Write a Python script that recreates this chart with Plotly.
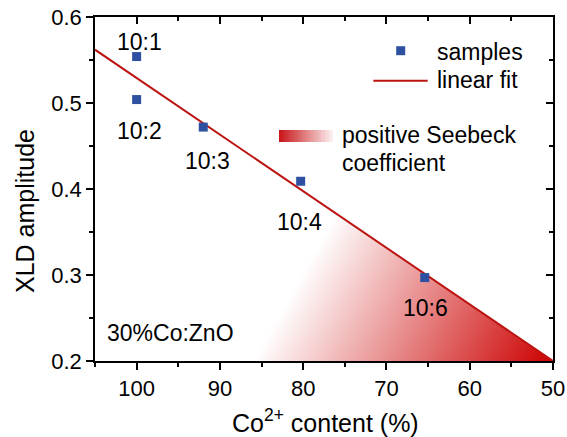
import numpy as np
import plotly.graph_objects as go

# ---- data ----
sample_x = [100, 100, 92, 80.3, 65.4]
sample_y = [0.554, 0.504, 0.472, 0.409, 0.297]
sample_labels = ["10:1", "10:2", "10:3", "10:4", "10:6"]
label_x = [99.6, 99.7, 91.5, 80.4, 65.3]
label_y = [0.571, 0.467, 0.432, 0.362, 0.262]

fit_x = [105, 50]
fit_y = [0.562, 0.2]

x_ticks = [100, 90, 80, 70, 60, 50]
y_ticks = [0.2, 0.3, 0.4, 0.5, 0.6]

# ---- geometry ----
ML, MR, MT, MB = 95, 14, 17, 76
W, H = 567, 437
PW = W - ML - MR
PH = H - MT - MB
XR = [105, 50]
YR = [0.2, 0.6]
kx = PW / (XR[0] - XR[1])      # px per x unit
ky = PH / (YR[1] - YR[0])      # px per y unit


def px(p):
    return (p - ML) / PW


def py(p):
    return (H - MB - p) / PH


FONT = "Liberation Sans, Arial, sans-serif"
RED = "#bb1412"
BLUE = "#2d51a0"

# ---- gradient region (positive Seebeck coefficient) ----
def fit_line(x):
    return fit_y[1] + (fit_y[0] - fit_y[1]) * (np.asarray(x) - fit_x[1]) / (fit_x[0] - fit_x[1])

gx = np.arange(50.0, 86.05, 0.1)
gy = np.arange(0.2, 0.442, 0.001)
GX, GY = np.meshgrid(gx, gy)
U = (105 - GX) * kx
V = (GY - 0.2) * ky
p0u, p0v = (105 - 86.0) * kx, 0.0
eu, ev = (86.0 - 76.8) * kx, (0.3605 - 0.2) * ky
n = np.hypot(eu, ev)
du, dv = ev / n, -eu / n
cu, cv = (105 - 50) * kx, 0.0
T = ((U - p0u) * du + (V - p0v) * dv) / ((cu - p0u) * du + (cv - p0v) * dv)
mask = (GY <= fit_line(GX)) & (T >= 0)
Z = np.where(mask, np.clip(T, 0, 1), np.nan)

fig = go.Figure()
fig.add_trace(go.Heatmap(
    x=gx, y=gy, z=Z, zmin=0, zmax=1,
    colorscale=[[0, "rgba(204,0,0,0)"], [1, "rgba(204,0,0,1)"]],
    showscale=False, hoverinfo="skip",
))

# legend swatch for gradient
sw_x = np.linspace(82.9, 76.4, 41)
sw_y = [0.455, 0.4686]
sw_z = [np.linspace(0, 1, 40).tolist()]
fig.add_trace(go.Heatmap(
    x=sw_x, y=sw_y, z=sw_z, zmin=0, zmax=1,
    colorscale=[[0, "rgb(200,20,24)"], [1, "rgb(252,240,240)"]],
    showscale=False, hoverinfo="skip",
))

fig.add_trace(go.Scatter(
    x=fit_x, y=fit_y, mode="lines", line=dict(color=RED, width=2),
    name="linear fit", showlegend=False, hoverinfo="skip",
))
fig.add_trace(go.Scatter(
    x=sample_x, y=sample_y, mode="markers",
    marker=dict(symbol="square", size=9, color=BLUE, line=dict(width=0)),
    name="samples", showlegend=False,
))
# helper trace for mirrored inward-tick axes
fig.add_trace(go.Scatter(x=[None], y=[None], xaxis="x2", yaxis="y2",
                         showlegend=False, hoverinfo="skip"))

annotations = []
for t, ax_, ay_ in zip(sample_labels, label_x, label_y):
    annotations.append(dict(x=ax_, y=ay_, xref="x", yref="y", text=t, showarrow=False,
                            xanchor="center", yanchor="middle",
                            font=dict(size=23, color="black", family=FONT)))
annotations.append(dict(x=103.8, y=0.233, xref="x", yref="y", text="30%Co:ZnO",
                        showarrow=False, xanchor="left", yanchor="middle",
                        font=dict(size=23, color="black", family=FONT)))
# legend texts
for txt, lx, ly in [("samples", 435, 52), ("linear fit", 435, 80),
                    ("positive Seebeck", 340, 135), ("coefficient", 340, 163)]:
    annotations.append(dict(x=px(lx), y=py(ly), xref="paper", yref="paper", text=txt,
                            showarrow=False, xanchor="left", yanchor="middle",
                            font=dict(size=23, color="black", family=FONT)))
# axis titles
annotations.append(dict(x=px(325), y=py(439), xref="paper", yref="paper",
                        text="Co<sup>2+</sup> content (%)", showarrow=False,
                        xanchor="center", yanchor="bottom",
                        font=dict(size=25, color="black", family=FONT)))
annotations.append(dict(x=px(25), y=py(211), xref="paper", yref="paper",
                        text="XLD amplitude", showarrow=False, textangle=-90,
                        xanchor="center", yanchor="middle",
                        font=dict(size=25, color="black", family=FONT)))

shapes = [
    dict(type="rect", xref="paper", yref="paper", xsizemode="pixel", ysizemode="pixel",
         xanchor=px(400.7), yanchor=py(50.7), x0=-4.5, x1=4.5, y0=-4.5, y1=4.5,
         fillcolor=BLUE, line=dict(width=0)),
    dict(type="line", xref="paper", yref="paper", x0=px(373.3), x1=px(427.7),
         y0=py(80.7), y1=py(80.7), line=dict(color=RED, width=2)),
]

axis_common = dict(showgrid=False, zeroline=False, showline=True, linecolor="black",
                   linewidth=1.5, tickcolor="black", tickwidth=1.5, automargin=False)

fig.update_layout(
    width=W, height=H,
    margin=dict(l=ML, r=MR, t=MT, b=MB, autoexpand=False),
    paper_bgcolor="white", plot_bgcolor="white",
    font=dict(family=FONT, size=22, color="black"),
    showlegend=False,
    xaxis=dict(range=XR, tickvals=x_ticks, ticks="outside", ticklen=7,
               minor=dict(dtick=5, tick0=50, ticks="outside", ticklen=4,
                          tickcolor="black", tickwidth=1.5),
               tickfont=dict(size=22), **axis_common),
    yaxis=dict(range=YR, tickvals=y_ticks, ticks="outside", ticklen=7,
               minor=dict(dtick=0.05, tick0=0.2, ticks="outside", ticklen=4,
                          tickcolor="black", tickwidth=1.5),
               tickfont=dict(size=22), **axis_common),
    xaxis2=dict(range=XR, overlaying="x", side="top", anchor="y", tickvals=x_ticks,
                ticks="inside", ticklen=7, showticklabels=False,
                minor=dict(dtick=5, tick0=50, ticks="inside", ticklen=4,
                           tickcolor="black", tickwidth=1.5),
                **axis_common),
    yaxis2=dict(range=YR, overlaying="y", side="right", anchor="x", tickvals=y_ticks,
                ticks="inside", ticklen=7, showticklabels=False,
                minor=dict(dtick=0.05, tick0=0.2, ticks="inside", ticklen=4,
                           tickcolor="black", tickwidth=1.5),
                **axis_common),
    annotations=annotations,
    shapes=shapes,
)

fig.write_html("out.html", config={"displayModeBar": False},
               post_script="document.body.style.margin='0';")
